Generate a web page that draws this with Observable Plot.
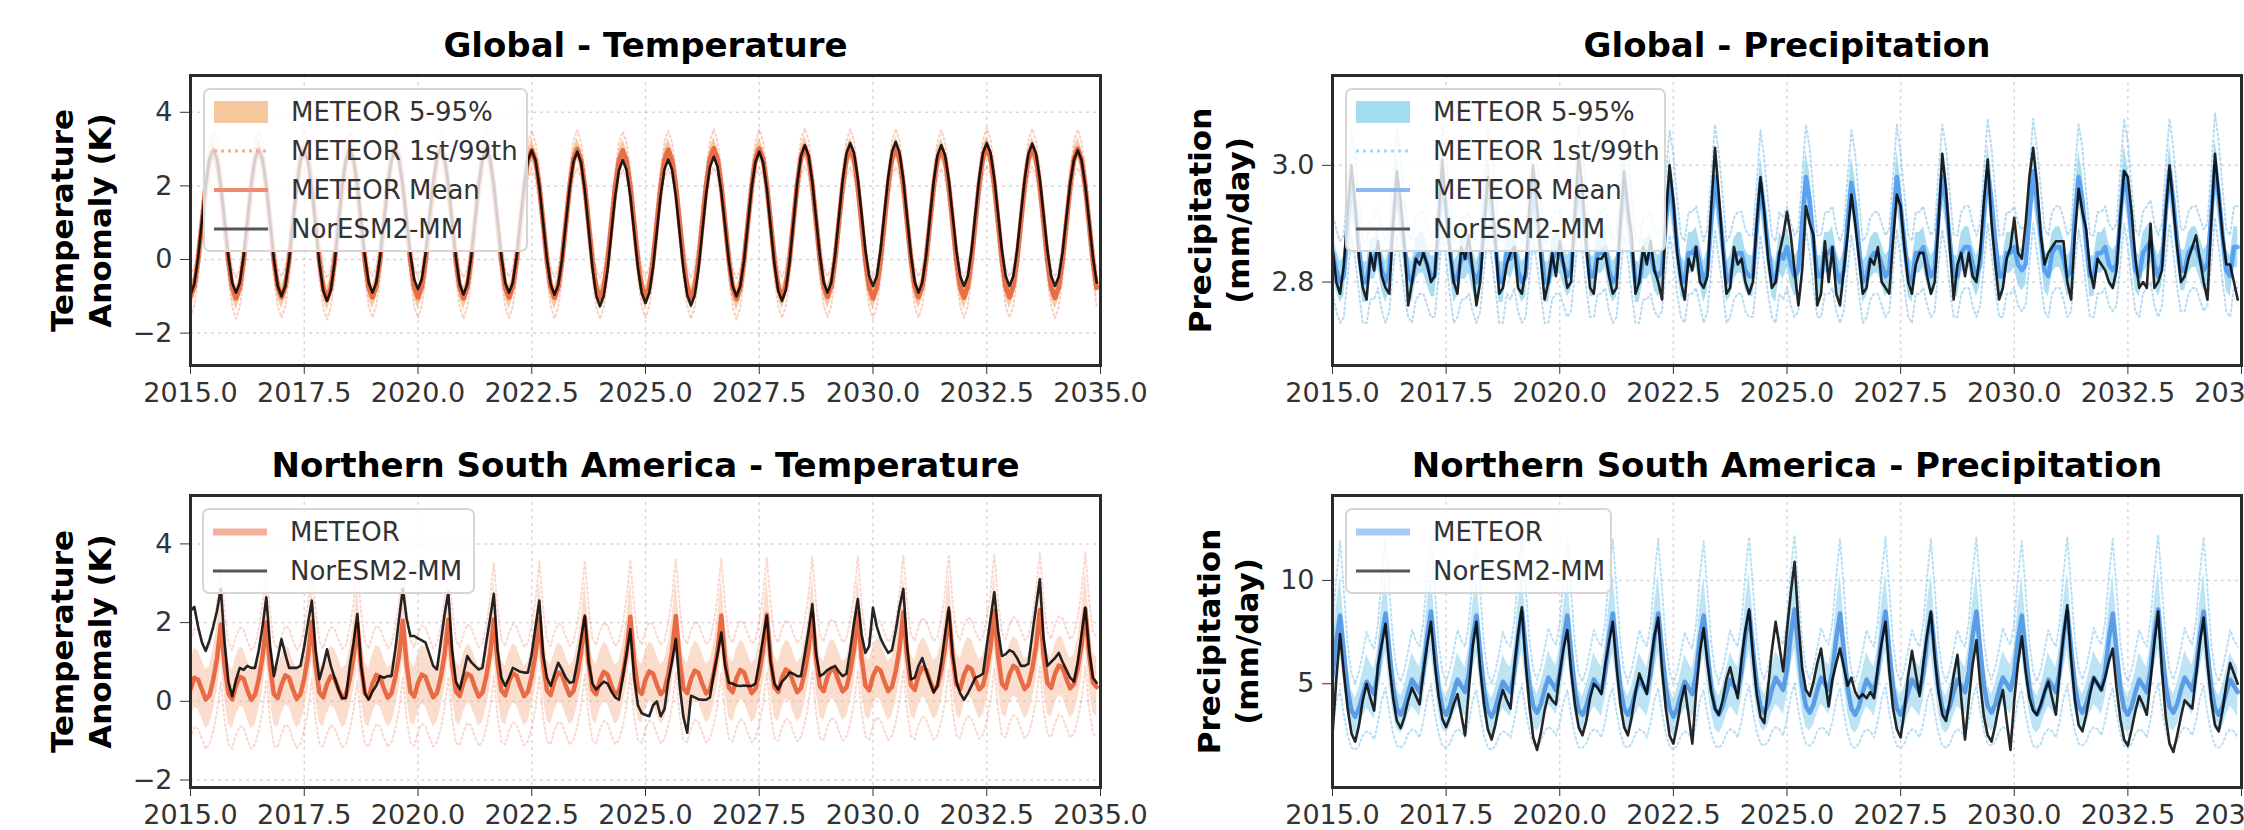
<!DOCTYPE html>
<html><head><meta charset="utf-8">
<script src="https://cdn.jsdelivr.net/npm/d3@7"></script>
<script src="https://cdn.jsdelivr.net/npm/@observablehq/plot@0.6"></script>
<style>
html,body{margin:0;padding:0;background:#fff;overflow:hidden;width:2244px;height:830px;font-family:"DejaVu Sans",sans-serif;}
#root{position:relative;width:2244px;height:830px;overflow:hidden;}
.panel{position:absolute;}
.legend{position:absolute;background:rgba(255,255,255,0.8);border:2px solid #d6d6d6;border-radius:7px;box-sizing:border-box;padding-top:2px;}
.legend .row{display:flex;align-items:center;height:39px;}
.legend svg{margin-left:8px;flex:none;}
.legend span{margin-left:22px;font-size:26px;color:#333;white-space:nowrap;font-family:"DejaVu Sans",sans-serif;}
</style></head><body><div id="root"></div>
<script>
// ---------- categories / ticks ----------
const startYear = 2015;
const xTicks = [2015, 2017.5, 2020, 2022.5, 2025, 2027.5, 2030, 2032.5, 2035];
const tasTicks = [-2, 0, 2, 4];
const prGlobalTicks = [2.8, 3.0];
const prNsaTicks = [5, 10];
const titles = ["Global - Temperature", "Global - Precipitation",
  "Northern South America - Temperature", "Northern South America - Precipitation"];
const yLabels = ["Temperature\nAnomaly (K)", "Precipitation\n(mm/day)"];
const legendFull = ["METEOR 5-95%", "METEOR 1st/99th", "METEOR Mean", "NorESM2-MM"];
const legendShort = ["METEOR", "NorESM2-MM"];

// ---------- Global temperature (monthly, Jan..Dec per row) ----------
const tasGlobalEsm = [
-0.95,-0.67,0.04,1.03,2.01,2.72,3.00,2.73,2.03,1.05,0.08,-0.63,
-0.90,-0.63,0.08,1.05,2.03,2.73,3.00,2.72,2.00,1.00,0.00,-0.72,
-1.00,-0.72,-0.01,0.98,1.96,2.67,2.95,2.66,1.93,0.91,-0.11,-0.84,
-1.13,-0.84,-0.10,0.94,1.97,2.71,3.00,2.73,2.03,1.05,0.08,-0.63,
-0.90,-0.63,0.06,1.03,1.99,2.68,2.95,2.69,2.01,1.08,0.14,-0.54,
-0.80,-0.53,0.16,1.13,2.09,2.78,3.05,2.77,2.05,1.05,0.05,-0.67,
-0.95,-0.67,0.04,1.03,2.01,2.72,3.00,2.73,2.03,1.05,0.08,-0.63,
-0.90,-0.63,0.07,1.04,2.00,2.70,2.97,2.69,1.99,1.01,0.02,-0.68,
-0.96,-0.69,0.01,0.99,1.96,2.66,2.93,2.64,1.88,0.83,-0.22,-0.98,
-1.27,-0.99,-0.28,0.72,1.71,2.42,2.70,2.43,1.73,0.76,-0.21,-0.91,
-1.18,-0.91,-0.21,0.77,1.75,2.45,2.72,2.44,1.73,0.74,-0.26,-0.97,
-1.25,-0.97,-0.24,0.77,1.78,2.51,2.79,2.52,1.84,0.90,-0.05,-0.73,
-1.00,-0.72,-0.02,0.97,1.95,2.65,2.93,2.65,1.92,0.90,-0.11,-0.85,
-1.13,-0.83,-0.07,0.99,2.05,2.81,3.11,2.83,2.11,1.10,0.10,-0.62,
-0.90,-0.62,0.12,1.14,2.15,2.89,3.17,2.90,2.20,1.23,0.25,-0.45,
-0.72,-0.45,0.26,1.24,2.22,2.93,3.20,2.91,2.18,1.15,0.13,-0.61,
-0.90,-0.62,0.10,1.11,2.11,2.83,3.11,2.84,2.15,1.20,0.24,-0.45,
-0.72,-0.45,0.25,1.23,2.20,2.90,3.17,2.90,2.20,1.23,0.25,-0.45,
-0.72,-0.45,0.25,1.22,2.18,2.88,3.15,2.88,2.18,1.22,0.25,-0.45,
-0.72,-0.46,0.20,1.13,2.05,2.71,2.97,2.70,2.00,1.04,0.07,-0.63];
const tasGlobalMean = [
-1.00,-0.73,-0.01,0.98,1.97,2.69,2.96,2.70,1.98,0.98,-0.03,-0.76,
-1.05,-0.77,-0.03,0.98,1.99,2.72,2.99,2.72,1.99,0.99,-0.02,-0.74,
-1.02,-0.74,-0.01,1.00,2.00,2.73,3.01,2.73,2.00,0.99,-0.03,-0.77,
-1.07,-0.78,-0.04,0.97,1.98,2.70,2.97,2.70,1.97,0.97,-0.04,-0.75,
-1.02,-0.73,0.00,1.01,2.02,2.75,3.03,2.75,2.01,1.00,-0.02,-0.75,
-1.03,-0.75,-0.02,0.99,1.99,2.72,3.00,2.72,1.99,0.98,-0.03,-0.76,
-1.05,-0.76,-0.02,1.00,2.00,2.73,3.01,2.72,1.98,0.97,-0.04,-0.76,
-1.03,-0.75,-0.03,0.98,1.98,2.70,2.97,2.70,1.98,0.99,-0.02,-0.75,
-1.04,-0.75,-0.02,0.99,1.99,2.72,3.00,2.71,1.97,0.97,-0.04,-0.77,
-1.06,-0.78,-0.04,0.96,1.96,2.69,2.96,2.69,1.97,0.98,-0.03,-0.75,
-1.03,-0.75,-0.02,0.99,1.99,2.71,2.98,2.71,1.99,1.00,-0.02,-0.75,
-1.05,-0.76,-0.01,1.01,2.01,2.74,3.02,2.74,2.00,0.99,-0.03,-0.77,
-1.07,-0.78,-0.03,0.99,2.00,2.73,3.01,2.74,2.01,1.00,-0.02,-0.75,
-1.03,-0.74,0.00,1.02,2.03,2.77,3.05,2.77,2.03,1.02,0.00,-0.73,
-1.01,-0.73,0.00,1.01,2.01,2.74,3.02,2.74,2.00,0.99,-0.03,-0.76,
-1.05,-0.76,-0.01,1.01,2.02,2.75,3.03,2.75,2.02,1.01,0.00,-0.74,
-1.02,-0.74,-0.01,0.99,1.99,2.72,2.99,2.72,1.99,0.99,-0.02,-0.75,
-1.03,-0.74,0.01,1.03,2.04,2.78,3.06,2.78,2.03,1.01,-0.01,-0.75,
-1.02,-0.73,0.00,1.01,2.02,2.75,3.03,2.75,2.01,1.00,-0.02,-0.76,
-1.04,-0.76,-0.02,0.99,2.00,2.73,3.01,2.72,1.98,0.97,-0.04,-0.77];
// half-widths of the METEOR ensemble, by calendar month
const tasGlobalSpread5 = [0.32,0.30,0.28,0.26,0.26,0.28,0.30,0.28,0.26,0.26,0.28,0.30];
const tasGlobalSpread1 = [0.56,0.52,0.48,0.45,0.45,0.48,0.52,0.48,0.45,0.45,0.48,0.52];

// ---------- Global precipitation ----------
const prGlobalEsm = [
2.86,2.80,2.78,2.83,2.92,3.00,2.93,2.84,2.79,2.77,2.85,2.82,
2.87,2.81,2.79,2.78,2.90,2.99,2.94,2.86,2.76,2.80,2.84,2.83,
2.85,2.83,2.80,2.81,2.91,3.01,2.92,2.85,2.80,2.78,2.86,2.84,
2.88,2.82,2.76,2.80,2.89,2.98,2.95,2.87,2.78,2.79,2.83,2.85,
2.86,2.79,2.78,2.82,2.93,3.00,2.93,2.84,2.77,2.80,2.85,2.81,
2.87,2.83,2.79,2.80,2.92,3.02,2.96,2.86,2.79,2.78,2.84,2.84,
2.85,2.81,2.78,2.79,2.90,2.99,2.92,2.88,2.78,2.80,2.86,2.83,
2.87,2.82,2.80,2.77,2.91,3.00,2.94,2.85,2.80,2.77,2.84,2.82,
2.86,2.80,2.79,2.81,2.93,3.03,2.95,2.86,2.78,2.79,2.86,2.83,
2.84,2.80,2.78,2.80,2.90,2.98,2.92,2.84,2.79,2.80,2.85,2.88,
2.92,2.88,2.82,2.76,2.82,2.93,2.90,2.88,2.76,2.78,2.87,2.80,
2.86,2.78,2.76,2.82,2.88,2.95,2.90,2.84,2.78,2.79,2.84,2.83,
2.86,2.80,2.79,2.78,2.87,2.95,2.93,2.86,2.80,2.78,2.83,2.85,
2.85,2.81,2.78,2.80,2.90,3.02,2.96,2.86,2.77,2.83,2.85,2.81,
2.85,2.81,2.80,2.85,2.94,3.01,2.90,2.83,2.77,2.79,2.84,2.86,
2.91,2.85,2.84,2.90,2.98,3.03,2.97,2.88,2.83,2.85,2.86,2.87,
2.87,2.87,2.80,2.77,2.88,2.96,2.92,2.89,2.82,2.79,2.84,2.83,
2.82,2.80,2.79,2.82,2.91,2.99,2.98,2.92,2.84,2.79,2.80,2.79,
2.90,2.79,2.80,2.82,2.92,3.00,2.93,2.86,2.80,2.81,2.84,2.86,
2.88,2.84,2.80,2.77,2.90,3.02,2.95,2.88,2.83,2.83,2.80,2.77];
const prGlobalMean = [
2.85,2.82,2.80,2.81,2.89,2.97,2.93,2.86,2.80,2.80,2.84,2.84,
2.86,2.82,2.80,2.82,2.90,2.97,2.92,2.86,2.81,2.80,2.84,2.85,
2.85,2.83,2.81,2.81,2.89,2.98,2.93,2.86,2.80,2.81,2.84,2.84,
2.85,2.82,2.80,2.82,2.90,2.97,2.93,2.87,2.80,2.80,2.85,2.84,
2.86,2.82,2.80,2.81,2.89,2.96,2.92,2.86,2.80,2.80,2.84,2.85,
2.85,2.83,2.81,2.82,2.90,2.98,2.94,2.87,2.81,2.81,2.85,2.85,
2.86,2.82,2.80,2.81,2.89,2.97,2.93,2.86,2.80,2.80,2.84,2.84,
2.85,2.82,2.81,2.82,2.90,2.97,2.93,2.86,2.81,2.80,2.85,2.85,
2.86,2.83,2.80,2.82,2.90,2.98,2.93,2.87,2.80,2.81,2.84,2.85,
2.85,2.82,2.81,2.81,2.89,2.97,2.92,2.86,2.81,2.80,2.85,2.84,
2.86,2.83,2.81,2.82,2.90,2.98,2.94,2.87,2.81,2.81,2.85,2.85,
2.86,2.82,2.80,2.82,2.90,2.97,2.93,2.86,2.80,2.81,2.84,2.85,
2.85,2.83,2.81,2.82,2.90,2.98,2.93,2.87,2.81,2.80,2.85,2.85,
2.86,2.83,2.81,2.82,2.91,2.98,2.94,2.87,2.81,2.81,2.85,2.86,
2.86,2.83,2.81,2.83,2.91,2.99,2.94,2.87,2.81,2.81,2.85,2.85,
2.86,2.83,2.82,2.83,2.91,2.99,2.94,2.88,2.82,2.81,2.85,2.86,
2.86,2.84,2.81,2.82,2.91,2.98,2.94,2.87,2.81,2.81,2.85,2.85,
2.86,2.83,2.82,2.83,2.91,2.99,2.95,2.88,2.82,2.81,2.85,2.86,
2.87,2.83,2.81,2.83,2.92,2.99,2.94,2.87,2.82,2.82,2.85,2.86,
2.86,2.84,2.82,2.83,2.91,3.00,2.95,2.88,2.82,2.81,2.86,2.86];
const prGlobalSpread5 = [0.035,0.035,0.035,0.035,0.040,0.045,0.045,0.040,0.035,0.035,0.035,0.035];
const prGlobalSpread1 = [0.070,0.070,0.070,0.070,0.080,0.090,0.090,0.080,0.070,0.070,0.070,0.070];

// ---------- Northern South America temperature ----------
const tasNsaEsm = [
2.30,2.40,1.90,1.50,1.28,1.55,1.90,2.30,2.86,1.50,0.50,0.13,
0.55,0.85,0.80,0.90,0.85,0.85,1.30,1.90,2.64,1.40,0.64,1.10,
1.58,1.20,0.85,0.85,0.85,0.90,1.40,2.00,2.56,1.30,0.56,0.90,
1.32,0.90,0.60,0.30,0.08,0.08,0.90,1.50,2.22,0.90,0.20,0.04,
0.25,0.40,0.64,0.60,0.64,0.64,1.30,2.10,2.86,2.10,1.66,1.66,
1.60,1.55,1.49,1.20,0.90,0.81,1.50,2.20,2.77,1.30,0.50,0.30,
0.70,1.15,1.00,0.90,0.81,0.85,1.50,2.10,2.73,1.30,0.60,0.39,
0.60,0.85,0.80,0.75,0.73,0.73,1.20,1.90,2.56,1.20,0.60,0.39,
0.70,0.98,0.80,0.60,0.47,0.50,1.00,1.60,2.18,1.00,0.45,0.30,
0.40,0.50,0.45,0.25,0.10,0.04,0.60,1.20,1.83,0.60,-0.10,-0.30,
-0.35,-0.38,-0.10,0.00,-0.38,-0.20,0.50,1.00,1.58,0.40,-0.40,-0.80,
0.14,0.10,0.05,0.04,0.04,0.10,0.70,1.20,1.75,0.90,0.47,0.45,
0.40,0.39,0.40,0.39,0.39,0.45,1.00,1.60,2.18,1.00,0.45,0.30,
0.50,0.60,0.73,0.70,0.64,0.64,1.20,1.80,2.47,1.20,0.64,0.70,
0.80,0.85,0.90,0.75,0.64,0.70,1.30,2.00,2.60,1.70,1.23,1.40,
2.38,1.90,1.60,1.40,1.23,1.30,1.80,2.40,2.86,1.40,0.56,0.60,
0.90,1.10,0.80,0.50,0.22,0.40,1.00,1.70,2.38,1.20,0.50,0.20,
0.04,0.20,0.40,0.60,0.64,0.70,1.40,2.10,2.77,1.80,1.15,1.20,
1.30,1.25,1.10,0.90,0.90,0.95,1.70,2.40,3.10,1.60,0.90,1.00,
1.10,1.23,1.00,0.80,0.60,0.50,1.00,1.70,2.38,1.30,0.60,0.47];
const tasNsaMean = [
0.30,0.60,0.55,0.30,0.05,0.15,0.55,1.10,1.95,0.90,0.20,0.05,
0.40,0.62,0.58,0.28,0.04,0.16,0.56,1.12,2.00,0.88,0.18,0.08,
0.42,0.66,0.60,0.30,0.06,0.18,0.58,1.14,2.02,0.92,0.22,0.10,
0.44,0.64,0.58,0.32,0.08,0.17,0.57,1.13,1.98,0.90,0.21,0.09,
0.45,0.67,0.61,0.33,0.09,0.20,0.60,1.16,2.05,0.94,0.24,0.12,
0.47,0.68,0.62,0.34,0.10,0.21,0.61,1.18,2.07,0.95,0.25,0.13,
0.48,0.70,0.64,0.36,0.12,0.22,0.63,1.20,2.08,0.97,0.27,0.15,
0.50,0.71,0.65,0.37,0.13,0.24,0.64,1.21,2.10,0.98,0.28,0.16,
0.52,0.73,0.67,0.39,0.15,0.26,0.66,1.23,2.12,1.00,0.30,0.18,
0.54,0.75,0.68,0.40,0.16,0.27,0.67,1.25,2.15,1.02,0.31,0.19,
0.55,0.76,0.70,0.42,0.18,0.29,0.69,1.27,2.17,1.04,0.33,0.21,
0.57,0.78,0.72,0.44,0.20,0.30,0.70,1.28,2.18,1.05,0.35,0.23,
0.59,0.80,0.73,0.45,0.21,0.32,0.72,1.30,2.20,1.07,0.36,0.24,
0.60,0.81,0.75,0.47,0.23,0.34,0.74,1.32,2.22,1.09,0.38,0.26,
0.62,0.83,0.77,0.49,0.25,0.35,0.75,1.33,2.24,1.10,0.40,0.28,
0.64,0.85,0.78,0.50,0.26,0.37,0.77,1.35,2.26,1.12,0.41,0.29,
0.65,0.86,0.80,0.52,0.28,0.39,0.78,1.37,2.28,1.14,0.43,0.31,
0.67,0.88,0.82,0.54,0.30,0.40,0.80,1.38,2.30,1.15,0.45,0.33,
0.69,0.90,0.83,0.55,0.31,0.42,0.82,1.40,2.32,1.17,0.46,0.34,
0.70,0.91,0.85,0.57,0.33,0.44,0.83,1.42,2.34,1.19,0.48,0.36];
const tasNsaSpread5 = [0.75,0.75,0.75,0.75,0.75,0.75,0.78,0.85,0.95,0.85,0.78,0.75];
const tasNsaSpread1 = [1.25,1.25,1.25,1.25,1.25,1.25,1.30,1.38,1.45,1.38,1.30,1.25];

// ---------- Northern South America precipitation ----------
const prNsaEsm = [
2.52,5.2,7.4,5.5,3.8,2.6,2.2,3.0,4.2,5.0,4.3,3.7,
5.9,6.9,7.9,5.9,4.3,3.2,2.85,3.4,4.2,4.8,4.4,4.0,
5.6,6.9,8.0,6.0,4.4,3.3,2.9,3.4,4.0,4.5,3.5,2.5,
4.7,6.8,8.0,5.7,4.0,2.8,2.3,3.0,4.0,4.7,4.2,3.8,
5.8,7.4,8.7,6.0,3.9,2.4,1.8,2.6,3.7,4.5,4.2,4.0,
5.5,6.7,7.6,5.6,4.0,2.9,2.5,3.2,4.3,5.0,4.8,4.5,
5.9,7.0,8.0,5.8,4.0,2.9,2.5,3.4,4.6,5.5,5.0,4.5,
6.0,7.3,8.2,5.7,3.8,2.5,2.1,3.0,4.1,4.9,3.5,2.1,
4.6,6.5,7.7,6.0,4.6,3.8,3.5,4.2,5.2,5.8,5.0,4.3,
6.2,7.6,8.6,6.4,4.5,3.4,3.1,4.8,6.6,8.0,6.8,5.6,
7.6,9.4,10.9,8.0,5.8,4.7,4.4,5.1,6.0,6.7,5.2,3.9,
5.2,6.0,6.7,5.8,4.9,5.3,4.6,4.3,4.5,4.3,4.6,4.3,
5.8,7.0,8.0,5.6,3.8,2.8,2.4,3.7,5.4,6.6,5.5,4.4,
6.0,7.4,8.5,6.3,4.6,3.5,3.2,4.2,5.4,6.4,4.3,2.3,
4.2,5.9,7.1,5.0,3.4,2.5,2.2,3.0,4.0,4.7,3.2,1.8,
4.2,6.0,7.3,5.6,4.3,3.7,3.5,4.0,4.6,5.1,4.3,3.5,
5.6,7.3,8.8,6.2,4.2,3.0,2.7,3.5,4.5,5.3,5.0,4.7,
5.3,6.1,6.7,4.8,3.3,2.3,2.0,2.8,3.7,4.4,4.0,3.5,
5.2,7.0,8.5,5.6,3.4,2.1,1.7,2.5,3.4,4.2,4.0,3.8,
5.4,7.0,8.2,6.0,4.2,3.0,2.7,3.7,5.0,6.0,5.5,5.0];
const prNsaMean = [
5.4,7.1,8.3,6.5,4.7,3.7,3.4,3.8,4.5,5.1,4.8,4.5,
5.5,7.2,8.4,6.6,4.8,3.8,3.5,3.9,4.6,5.2,4.9,4.6,
5.6,7.3,8.5,6.6,4.8,3.8,3.5,3.9,4.6,5.2,4.9,4.6,
5.5,7.2,8.3,6.5,4.7,3.7,3.4,3.8,4.5,5.1,4.8,4.6,
5.6,7.3,8.5,6.7,4.9,3.9,3.6,4.0,4.7,5.3,5.0,4.7,
5.5,7.1,8.3,6.5,4.7,3.7,3.5,3.9,4.6,5.2,4.9,4.6,
5.6,7.3,8.4,6.6,4.8,3.8,3.5,3.9,4.6,5.2,4.9,4.6,
5.5,7.2,8.4,6.6,4.8,3.8,3.4,3.8,4.5,5.1,4.8,4.5,
5.5,7.2,8.3,6.5,4.8,3.8,3.5,3.9,4.6,5.2,4.9,4.6,
5.6,7.3,8.5,6.7,4.9,3.9,3.6,4.0,4.7,5.3,5.0,4.7,
5.7,7.4,8.6,6.7,4.9,3.9,3.6,4.0,4.7,5.3,5.0,4.7,
5.6,7.2,8.4,6.6,4.8,3.8,3.5,3.9,4.6,5.2,4.9,4.6,
5.6,7.3,8.5,6.6,4.8,3.8,3.5,3.9,4.6,5.2,4.9,4.6,
5.5,7.2,8.4,6.6,4.8,3.8,3.5,3.9,4.6,5.2,4.9,4.6,
5.6,7.3,8.5,6.7,4.9,3.9,3.6,4.0,4.7,5.3,5.0,4.7,
5.5,7.2,8.3,6.5,4.8,3.8,3.5,3.9,4.6,5.2,4.9,4.6,
5.6,7.3,8.5,6.7,4.9,3.9,3.6,4.0,4.7,5.3,5.0,4.7,
5.6,7.2,8.4,6.6,4.8,3.8,3.5,3.9,4.6,5.2,4.9,4.6,
5.7,7.4,8.6,6.7,4.9,3.9,3.6,4.0,4.7,5.3,5.0,4.7,
5.6,7.3,8.5,6.6,4.8,3.8,3.5,3.9,4.6,5.2,4.9,4.6];
const prNsaSpread5 = [1.3,1.6,1.9,1.6,1.2,1.0,0.9,1.0,1.1,1.3,1.2,1.2];
const prNsaSpread1 = [2.4,3.0,3.6,3.0,2.2,1.8,1.6,1.8,2.0,2.4,2.2,2.2];

// ---------- drawing ----------
const root = document.getElementById("root");
const fmtTas = d => d < 0 ? "\u2212" + Math.abs(d) : String(d);

function makeRows(esm, mean, s5, s1) {
  return esm.map((v, i) => ({
    t: startYear + i / 12, esm: v, mean: mean[i],
    lo5: mean[i] - s5[i % 12], hi5: mean[i] + s5[i % 12],
    lo1: mean[i] - s1[i % 12], hi1: mean[i] + s1[i % 12]
  }));
}

function panel(cfg) {
  const rows = makeRows(cfg.esm, cfg.mean, cfg.s5, cfg.s1);
  const c = cfg.colors;
  const chart = Plot.plot({
    width: cfg.width, height: cfg.height,
    marginLeft: cfg.mL, marginRight: cfg.mR, marginTop: cfg.mT, marginBottom: cfg.mB,
    style: {fontFamily: "DejaVu Sans, sans-serif", fontSize: "27px", color: "#333", background: "transparent"},
    x: {domain: [2015, 2035], label: null},
    y: {domain: cfg.yDomain, label: null},
    marks: [
      Plot.gridX(xTicks, {stroke: "#b8b8b8", strokeOpacity: 0.55, strokeDasharray: "3,4", strokeWidth: 1.5}),
      Plot.gridY(cfg.yTicks, {stroke: "#b8b8b8", strokeOpacity: 0.55, strokeDasharray: "3,4", strokeWidth: 1.5}),
      Plot.areaY(rows, {x: "t", y1: "lo5", y2: "hi5", fill: c.band, fillOpacity: c.bandOp, clip: true}),
      Plot.lineY(rows, {x: "t", y: "lo1", stroke: c.dot, strokeOpacity: c.dotOp, strokeWidth: 2, strokeDasharray: "2,3", clip: true}),
      Plot.lineY(rows, {x: "t", y: "hi1", stroke: c.dot, strokeOpacity: c.dotOp, strokeWidth: 2, strokeDasharray: "2,3", clip: true}),
      Plot.lineY(rows, {x: "t", y: "mean", stroke: c.mean, strokeOpacity: c.meanOp, strokeWidth: c.meanW, clip: true}),
      Plot.lineY(rows, {x: "t", y: "esm", stroke: "#000", strokeOpacity: 0.85, strokeWidth: 2.6, clip: true}),
      Plot.axisX(xTicks, {tickFormat: d => d.toFixed(1), tickSize: 9, tickPadding: 8, label: null, fontSize: 27}),
      Plot.axisY(cfg.yTicks, {tickFormat: cfg.yFmt, tickSize: 10, tickPadding: 8, label: null, fontSize: 27}),
      Plot.frame({stroke: "#2b2b2b", strokeWidth: 3}),
      Plot.text([cfg.title], {text: d => d, frameAnchor: "top", dy: -29, lineAnchor: "middle",
        fontSize: 34, fontWeight: "bold", fill: "#000"}),
      Plot.text([cfg.ylabel], {text: d => d, frameAnchor: "left", dx: cfg.ylabelDx, rotate: -90,
        textAnchor: "middle", lineAnchor: "middle", lineHeight: 1.22, fontSize: 31, fontWeight: "bold", fill: "#000"})
    ]
  });
  const div = document.createElement("div");
  div.className = "panel";
  div.style.left = cfg.left + "px";
  div.style.top = cfg.top + "px";
  div.appendChild(chart);
  root.appendChild(div);
}

function legend(left, top, width, items) {
  const box = document.createElement("div");
  box.className = "legend";
  box.style.left = left + "px";
  box.style.top = top + "px";
  box.style.width = width + "px";
  box.style.height = (items.length * 39 + 8) + "px";
  for (const it of items) {
    const row = document.createElement("div");
    row.className = "row";
    let g;
    if (it.kind === "patch") g = `<rect x="1" y="2" width="54" height="22" fill="${it.color}"/>`;
    else if (it.kind === "dot") g = `<line x1="1" y1="13" x2="55" y2="13" stroke="${it.color}" stroke-width="3" stroke-dasharray="3,4"/>`;
    else g = `<line x1="1" y1="13" x2="55" y2="13" stroke="${it.color}" stroke-width="${it.w}"/>`;
    row.innerHTML = `<svg width="56" height="26">${g}</svg><span>${it.label}</span>`;
    box.appendChild(row);
  }
  root.appendChild(box);
}

const red = {band: "#f4a460", bandOp: 0.6, dot: "#e8603c", dotOp: 0.3, mean: "#e4572e", meanOp: 0.8, meanW: 5};
const blue = {band: "#87ceeb", bandOp: 0.7, dot: "#6cb8e8", dotOp: 0.5, mean: "#3d8ef0", meanOp: 0.75, meanW: 4.5};
const redNsa = {band: "#f7b393", bandOp: 0.45, dot: "#ee7a5a", dotOp: 0.3, mean: "#e4572e", meanOp: 0.85, meanW: 4.5};
const blueNsa = {band: "#87ceeb", bandOp: 0.55, dot: "#7cc4ec", dotOp: 0.55, mean: "#4a90e2", meanOp: 0.85, meanW: 4.5};

panel({left: 0, top: 0, width: 1160, height: 420, mL: 190, mR: 60, mT: 75, mB: 55,
  yDomain: [-2.88, 5.0], yTicks: tasTicks, yFmt: fmtTas, title: titles[0], ylabel: yLabels[0], ylabelDx: -111,
  esm: tasGlobalEsm, mean: tasGlobalMean, s5: tasGlobalSpread5, s1: tasGlobalSpread1, colors: red});
panel({left: 1160, top: 0, width: 1084, height: 420, mL: 172, mR: 3, mT: 75, mB: 55,
  yDomain: [2.657, 3.154], yTicks: prGlobalTicks, yFmt: d => d.toFixed(1), title: titles[1], ylabel: yLabels[1], ylabelDx: -115,
  esm: prGlobalEsm, mean: prGlobalMean, s5: prGlobalSpread5, s1: prGlobalSpread1, colors: blue});
panel({left: 0, top: 420, width: 1160, height: 410, mL: 190, mR: 60, mT: 75, mB: 43,
  yDomain: [-2.19, 5.23], yTicks: tasTicks, yFmt: fmtTas, title: titles[2], ylabel: yLabels[0], ylabelDx: -111,
  esm: tasNsaEsm, mean: tasNsaMean, s5: tasNsaSpread5, s1: tasNsaSpread1, colors: redNsa});
panel({left: 1160, top: 420, width: 1084, height: 410, mL: 172, mR: 3, mT: 75, mB: 43,
  yDomain: [-0.02, 14.11], yTicks: prNsaTicks, yFmt: d => String(d), title: titles[3], ylabel: yLabels[1], ylabelDx: -106,
  esm: prNsaEsm, mean: prNsaMean, s5: prNsaSpread5, s1: prNsaSpread1, colors: blueNsa});

legend(203, 88, 325, [
  {kind: "patch", color: "#f6c69c", label: legendFull[0]},
  {kind: "dot", color: "#f3ab98", label: legendFull[1]},
  {kind: "line", color: "#ee8a70", w: 4, label: legendFull[2]},
  {kind: "line", color: "#555", w: 3, label: legendFull[3]}]);
legend(1345, 88, 321, [
  {kind: "patch", color: "#a4dcf0", label: legendFull[0]},
  {kind: "dot", color: "#a8d6f2", label: legendFull[1]},
  {kind: "line", color: "#8cb8f2", w: 4, label: legendFull[2]},
  {kind: "line", color: "#555", w: 3, label: legendFull[3]}]);
legend(202, 508, 273, [
  {kind: "line", color: "#f4b19b", w: 7, label: legendShort[0]},
  {kind: "line", color: "#555", w: 3, label: legendShort[1]}]);
legend(1345, 508, 267, [
  {kind: "line", color: "#a9c9f5", w: 7, label: legendShort[0]},
  {kind: "line", color: "#555", w: 3, label: legendShort[1]}]);
</script>
</body></html>
